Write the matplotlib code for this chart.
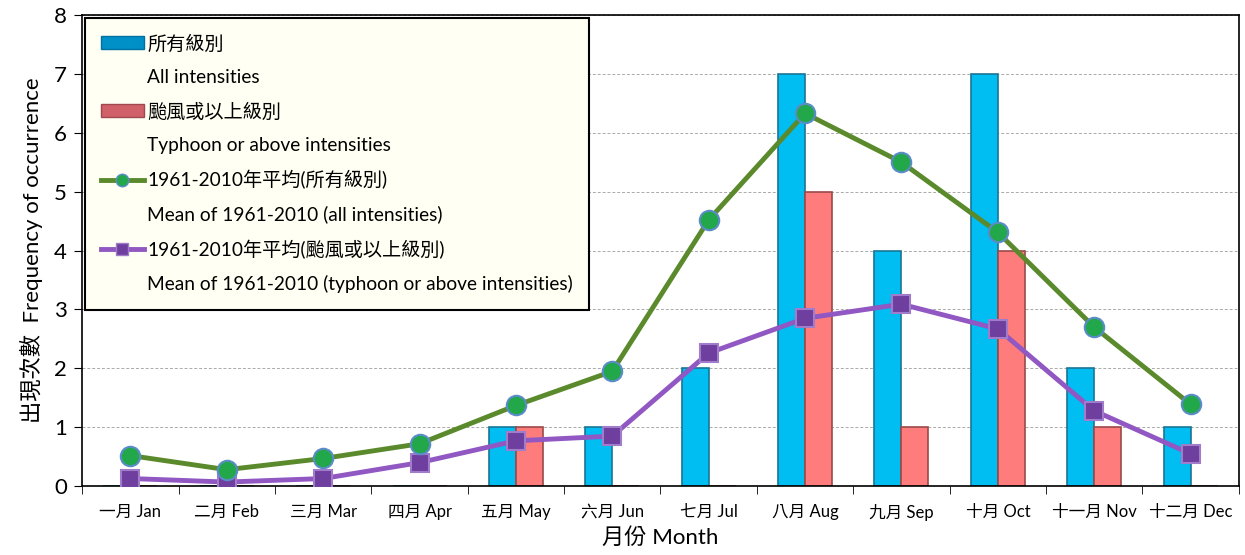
import matplotlib
matplotlib.use("Agg")
import matplotlib.pyplot as plt
from matplotlib.lines import Line2D
from matplotlib.patches import Patch
import numpy as np

plt.rcParams["font.family"] = ["Lato", "Noto Sans CJK TC", "DejaVu Sans"]

months = ["一月 Jan", "二月 Feb", "三月 Mar", "四月 Apr", "五月 May", "六月 Jun",
          "七月 Jul", "八月 Aug", "九月 Sep", "十月 Oct", "十一月 Nov", "十二月 Dec"]
all_counts = [0, 0, 0, 0, 1, 1, 2, 7, 4, 7, 2, 1]
typhoon_counts = [0, 0, 0, 0, 1, 0, 0, 5, 1, 4, 1, 0]
mean_all = [0.52, 0.28, 0.47, 0.72, 1.37, 1.95, 4.52, 6.33, 5.5, 4.31, 2.7, 1.39]
mean_typhoon = [0.13, 0.07, 0.13, 0.40, 0.77, 0.85, 2.26, 2.85, 3.09, 2.67, 1.28, 0.55]

BLUE = "#00BDF2"
BLUE_EDGE = "#1A7595"
RED = "#FF7C7C"
RED_EDGE = "#9A4A4A"
GREEN = "#5A8A2C"
PURPLE = "#9157C2"

fig = plt.figure(figsize=(12.45, 5.55), dpi=100)
ax = fig.add_axes([0.066, 0.124, 0.929, 0.849])

x = np.arange(len(months))
w = 0.28
ax.bar(x - w / 2, all_counts, w, color=BLUE, edgecolor=BLUE_EDGE, linewidth=1.2, zorder=2)
ax.bar(x + w / 2, typhoon_counts, w, color=RED, edgecolor=RED_EDGE, linewidth=1.2, zorder=2)

ax.plot(x, mean_all, color=GREEN, lw=3.5, marker="o", markersize=14,
        markerfacecolor="#22A84A", markeredgecolor="#5A8CC8", markeredgewidth=1.5, zorder=4)
ax.plot(x, mean_typhoon, color=PURPLE, lw=3.5, marker="s", markersize=13,
        markerfacecolor="#6E3F9E", markeredgecolor="#A07CCB", markeredgewidth=1.5, zorder=3)

ax.set_xlim(-0.5, 11.5)
ax.set_ylim(0, 8)
ax.set_yticks(range(0, 9))
ax.tick_params(axis="y", labelsize=16, direction="out", length=6, pad=5)
ax.set_xticks(x)
ax.set_xticklabels(months, fontsize=12)
ax.tick_params(axis="x", length=0, pad=13)
ax.set_xticks(np.arange(-0.5, 12, 1), minor=True)
ax.tick_params(axis="x", which="minor", length=6, direction="out")
ax.grid(axis="y", color="#AAAAAA", linestyle=(0, (3, 2)), linewidth=0.7, zorder=0)
ax.set_axisbelow(True)
for s in ax.spines.values():
    s.set_linewidth(1.2)

ax.set_xlabel("月份 Month", fontsize=16, labelpad=4)
ax.set_ylabel("出現次數  Frequency of occurrence", fontsize=16, labelpad=8)

blank = Patch(facecolor="none", edgecolor="none")
handles = [
    Patch(facecolor="#0090C8", edgecolor="#0070A0"), blank,
    Patch(facecolor="#D0606A", edgecolor="#A04850"), blank,
    Line2D([], [], color=GREEN, lw=3.5, marker="o", markersize=9,
           markerfacecolor="#22A84A", markeredgecolor="#5A8CC8"), blank,
    Line2D([], [], color=PURPLE, lw=3.5, marker="s", markersize=9,
           markerfacecolor="#6E3F9E", markeredgecolor="#A07CCB"), blank,
]
labels = [
    "所有級別", "All intensities",
    "颱風或以上級別", "Typhoon or above intensities",
    "1961-2010年平均(所有級別)", "Mean of 1961-2010 (all intensities)",
    "1961-2010年平均(颱風或以上級別)", "Mean of 1961-2010 (typhoon or above intensities)",
]
leg = ax.legend(handles, labels, loc="upper left", bbox_to_anchor=(0.0, 1.0),
                fontsize=13.8, labelspacing=0.85, handlelength=2.2, handletextpad=0.2,
                borderpad=0.85, fancybox=False, framealpha=1, borderaxespad=0.15)
leg.get_frame().set_facecolor("#FFFFF3")
leg.get_frame().set_edgecolor("black")
leg.get_frame().set_linewidth(1.5)
leg.set_zorder(5)

fig.savefig("out.png", dpi=100, facecolor="white")
